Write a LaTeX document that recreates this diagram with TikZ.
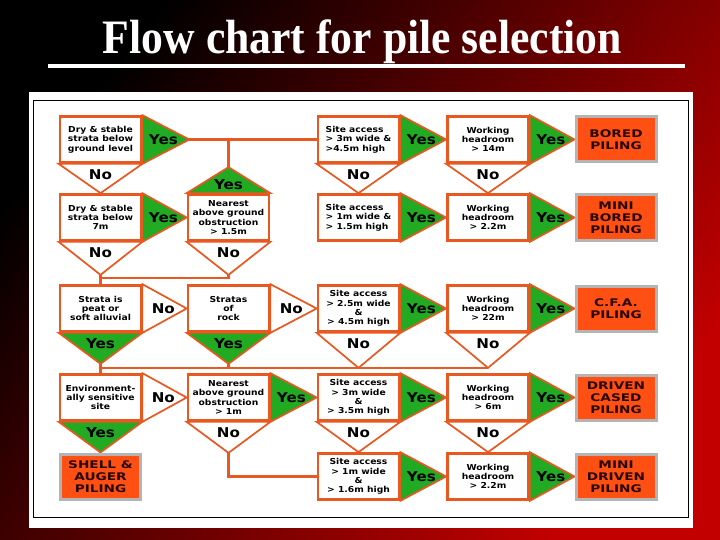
\documentclass[tikz,border=0pt]{standalone}
\usepackage{fontspec}
\usetikzlibrary{calc}
\newfontfamily\bxf{DejaVu Sans}[FakeStretch=1.12]
\newfontfamily\rsf{DejaVu Sans}
\newfontfamily\ttlf{Liberation Serif}[FakeStretch=0.91]
\definecolor{org}{RGB}{232,88,32}
\definecolor{grn}{RGB}{34,170,34}
\definecolor{resf}{RGB}{255,80,20}
\definecolor{resb}{RGB}{180,180,180}
\definecolor{piletxt}{RGB}{40,5,0}
\definecolor{bgr}{RGB}{195,0,0}
\pgfdeclarelayer{back}
\pgfdeclarelayer{bg}
\pgfsetlayers{back,bg,main}
\newcommand\rtri[4]{\draw[tri,fill=#3] (#1.north east) -- (#2) -- (#1.south east) -- cycle;
  \node[tlab] (#1r) at ($(#1.east)+(21,0)$) {#4};}
\newcommand\dtri[4]{\draw[tri,fill=#3] (#1.south west) -- (#2) -- (#1.south east) -- cycle;
  \node[tlab] (#1d) at ($(#1.south)+(0,11)$) {#4};}
\begin{document}
\begin{tikzpicture}[x=1pt,y=-1pt,
  box/.style={draw=org,line width=2.7pt,fill=white,minimum width=81pt,minimum height=46pt,inner sep=1pt,align=center,font=\bxf\bfseries\fontsize{8.2}{9.3}\selectfont},
  res/.style={draw=resb,line width=3pt,fill=resf,minimum width=80pt,minimum height=45pt,inner sep=0pt},
  restx/.style={text=piletxt,inner sep=0pt,align=center,xscale=1.3,font=\rsf\bfseries\fontsize{10.5}{12}\selectfont},
  tri/.style={draw=org,line width=1.7pt,line join=miter},
  conn/.style={draw=org,line width=2.2pt},
  tlab/.style={font=\bxf\bfseries\fontsize{13.5}{14}\selectfont,inner sep=0pt}]
\begin{pgfonlayer}{back}
\useasboundingbox (0,0) rectangle (720,540);
\shade[left color=black,right color=bgr,shading angle=52] (0,0) rectangle (720,540);
\fill[white] (29,92) rectangle (693,528);
\draw[black,line width=1pt] (33,101) rectangle (688,517);
\end{pgfonlayer}
\node[anchor=base,text=white,inner sep=0pt,font=\ttlf\bfseries\fontsize{48}{50}\selectfont] (title) at (362.5,54) {Flow chart for pile selection};
\draw[white,line width=4.5pt] (48,66) -- (685,66);
% row 1
\node[box] (b11) at (100.5,139.5) {Dry \& stable\\strata below\\ground level};
\node[box,align=left] (b13) at (358.5,139.5) {Site access\\> 3m wide \&\\>4.5m high};
\node[box] (b14) at (488,139.5) {Working\\headroom\\> 14m};
\node[res] (b15) at (616,139.5) {};
\node[restx] (b15t) at (b15) {BORED\\PILING};
% row 2
\node[box] (b21) at (100.5,217.5) {Dry \& stable\\strata below\\7m};
\node[box] (b22) at (228.5,217.5) {Nearest\\above ground\\obstruction\\> 1.5m};
\node[box,align=left] (b23) at (358.5,217.5) {Site access\\> 1m wide \&\\> 1.5m high};
\node[box] (b24) at (488,217.5) {Working\\headroom\\> 2.2m};
\node[res] (b25) at (616,217.5) {};
\node[restx] (b25t) at (b25) {MINI\\BORED\\PILING};
% row 3
\node[box] (b31) at (100.5,308.5) {Strata is\\peat or\\soft alluvial};
\node[box] (b32) at (228.5,308.5) {Stratas\\of\\rock};
\node[box] (b33) at (358.5,308.5) {Site access\\> 2.5m wide\\\&\\> 4.5m high};
\node[box] (b34) at (488,308.5) {Working\\headroom\\> 22m};
\node[res] (b35) at (616,308.5) {};
\node[restx] (b35t) at (b35) {C.F.A.\\PILING};
% row 4
\node[box] (b41) at (100.5,397.5) {Environment-\\ally sensitive\\site};
\node[box] (b42) at (228.5,397.5) {Nearest\\above ground\\obstruction\\> 1m};
\node[box] (b43) at (358.5,397.5) {Site access\\> 3m wide\\\&\\> 3.5m high};
\node[box] (b44) at (488,397.5) {Working\\headroom\\> 6m};
\node[res] (b45) at (616,397.5) {};
\node[restx] (b45t) at (b45) {DRIVEN\\CASED\\PILING};
% row 5
\node[res] (b51) at (100.5,476.5) {};
\node[restx] (b51t) at (b51) {SHELL \&\\AUGER\\PILING};
\node[box] (b53) at (358.5,476.5) {Site access\\> 1m wide\\\&\\> 1.6m high};
\node[box] (b54) at (488,476.5) {Working\\headroom\\> 2.2m};
\node[res] (b55) at (616,476.5) {};
\node[restx] (b55t) at (b55) {MINI\\DRIVEN\\PILING};
% coordinates
\coordinate (t11) at ($(b11.east)+(47,0)$);
\coordinate (j1) at (b22.north |- t11);
\coordinate (a22) at ($(b22.north)+(0,-26)$);
\coordinate (n21) at ($(b21.south)+(0,33)$);
\coordinate (n22) at ($(b22.south)+(0,33)$);
\coordinate (j2) at ($(n21)+(0,3)$);
\coordinate (y31) at ($(b31.south)+(0,31)$);
\coordinate (y32) at ($(b32.south)+(0,31)$);
\coordinate (n33) at ($(b33.south)+(0,35)$);
\coordinate (n34) at ($(b34.south)+(0,35)$);
\coordinate (j3) at (b31.south |- n33);
\coordinate (n42) at ($(b42.south)+(0,31)$);
\begin{pgfonlayer}{bg}
\draw[conn] (t11) -- (b13.west);
\draw[conn] (j1) -- (a22);
\draw[conn] (n21) -- (b31.north);
\draw[conn] (n22) |- (j2);
\draw[conn] (y31) -- (b41.north);
\draw[conn] (y32) |- (j3);
\draw[conn] (n34) -- (j3);
\draw[conn] (n42) |- (b53.west);
% row 1
\rtri{b11}{t11}{grn}{Yes}
\dtri{b11}{b21.north}{white}{No}
\rtri{b13}{b14.west}{grn}{Yes}
\dtri{b13}{b23.north}{white}{No}
\rtri{b14}{b15.west}{grn}{Yes}
\dtri{b14}{b24.north}{white}{No}
% row 2
\draw[tri,fill=grn] (b22.north west) -- (a22) -- (b22.north east) -- cycle;
\node[tlab] (b22u) at ($(b22.north)+(0,-8)$) {Yes};
\rtri{b21}{b22.west}{grn}{Yes}
\dtri{b21}{n21}{white}{No}
\dtri{b22}{n22}{white}{No}
\rtri{b23}{b24.west}{grn}{Yes}
\rtri{b24}{b25.west}{grn}{Yes}
% row 3
\rtri{b31}{b32.west}{white}{No}
\rtri{b32}{b33.west}{white}{No}
\rtri{b33}{b34.west}{grn}{Yes}
\rtri{b34}{b35.west}{grn}{Yes}
\dtri{b31}{y31}{grn}{Yes}
\dtri{b32}{y32}{grn}{Yes}
\dtri{b33}{n33}{white}{No}
\dtri{b34}{n34}{white}{No}
% row 4
\rtri{b41}{b42.west}{white}{No}
\rtri{b42}{b43.west}{grn}{Yes}
\rtri{b43}{b44.west}{grn}{Yes}
\rtri{b44}{b45.west}{grn}{Yes}
\dtri{b41}{b51.north}{grn}{Yes}
\dtri{b42}{n42}{white}{No}
\dtri{b43}{b53.north}{white}{No}
\dtri{b44}{b54.north}{white}{No}
% row 5
\rtri{b53}{b54.west}{grn}{Yes}
\rtri{b54}{b55.west}{grn}{Yes}
\end{pgfonlayer}
\end{tikzpicture}
\end{document}
